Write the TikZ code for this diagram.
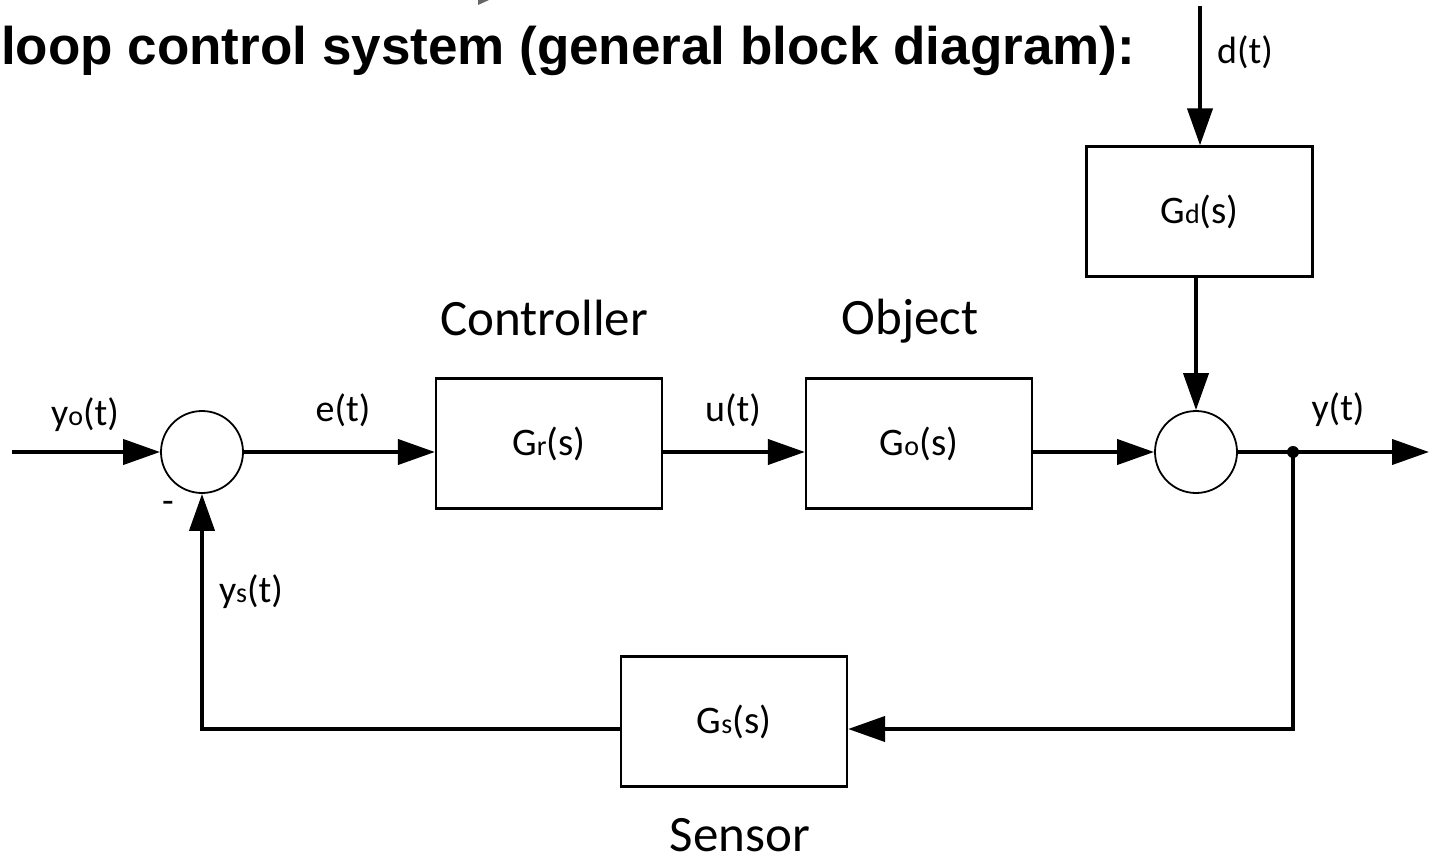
\documentclass[tikz,border=0pt]{standalone}
\usepackage{fontspec}
\setmainfont{Carlito}
\newfontfamily\titlefont{Liberation Sans}
\usetikzlibrary{arrows.meta,calc}
\newcommand\smt[1]{{\fontsize{28}{28}\selectfont #1}}
\begin{document}
\begin{tikzpicture}[x=1pt,y=-1pt,
  blk/.style={draw,line width=2.2pt,minimum width=226pt,minimum height=130pt,inner sep=0pt,font=\fontsize{39}{42}\selectfont},
  sumj/.style={draw,circle,line width=1.8pt,minimum size=82pt,inner sep=0pt},
  sig/.style={font=\fontsize{38}{42}\selectfont,inner sep=0pt},
  big/.style={font=\fontsize{51}{56}\selectfont,inner sep=0pt},
  wire/.style={line width=4pt},
  arr/.style={wire,-{Triangle[length=37pt,width=25pt]}}]
\useasboundingbox (0,0) rectangle (1429,861);
\fill[gray!80!black] (478,0) -- (489,0) -- (478,5) -- cycle;
\node[anchor=base west,inner sep=0pt,font=\titlefont\bfseries\fontsize{53}{60}\selectfont] (title) at (1,65) {loop control system (general block diagram):};
% junctions and blocks
\node[sumj] (s1) at (202,452) {};
\node[sumj] (s2) at (1196,452) {};
\node[blk] (Gr) at (549,443.5) {G\smt{r}(s)};
\node[blk] (Go) at (919,443.5) {G\smt{o}(s)};
\node[blk] (Gd) at (1199.5,211.5) {G\smt{d}(s)};
\node[blk] (Gs) at (734,721.5) {G\smt{s}(s)};
% captions
\node[big] (cap1) at (544,318) {Controller};
\node[big] (cap2) at (910,321) {Object};
\node[big] (cap3) at (740,835) {Sensor};
% signal labels
\node[sig] (lyo) at (85,415) {y\smt{o}(t)};
\node[sig] (le) at (343,410) {e(t)};
\node[sig] (lu) at (733,410) {u(t)};
\node[sig] (ly) at (1338,410) {y(t)};
\node[sig] (ld) at (1245,52) {d(t)};
\node[sig] (lys) at (251,592) {y\smt{s}(t)};
\node[sig] (lm) at (168,507) {-};
% coordinates
\coordinate (in) at (12,452);
\coordinate (out) at (1429,452);
\coordinate (dtop) at (1200,6);
\coordinate (br) at (1293,452);
\coordinate (fb) at (0,729);
% connectors
\draw[arr] (in) -- (s1);
\draw[arr] (s1) -- (s1 -| Gr.west);
\draw[arr] (s1 -| Gr.east) -- (s1 -| Go.west);
\draw[arr] (s1 -| Go.east) -- (s2);
\draw[arr] (dtop) -- (dtop |- Gd.north);
\draw[arr] (Gd.south -| s2) -- (s2);
\draw[arr] (s2) -- (out);
\fill (br) circle (6pt);
\draw[arr] (br) -- (br |- fb) -- (fb -| Gs.east);
\draw[arr] (fb -| Gs.west) -- (fb -| s1) -- (s1);
\end{tikzpicture}
\end{document}
